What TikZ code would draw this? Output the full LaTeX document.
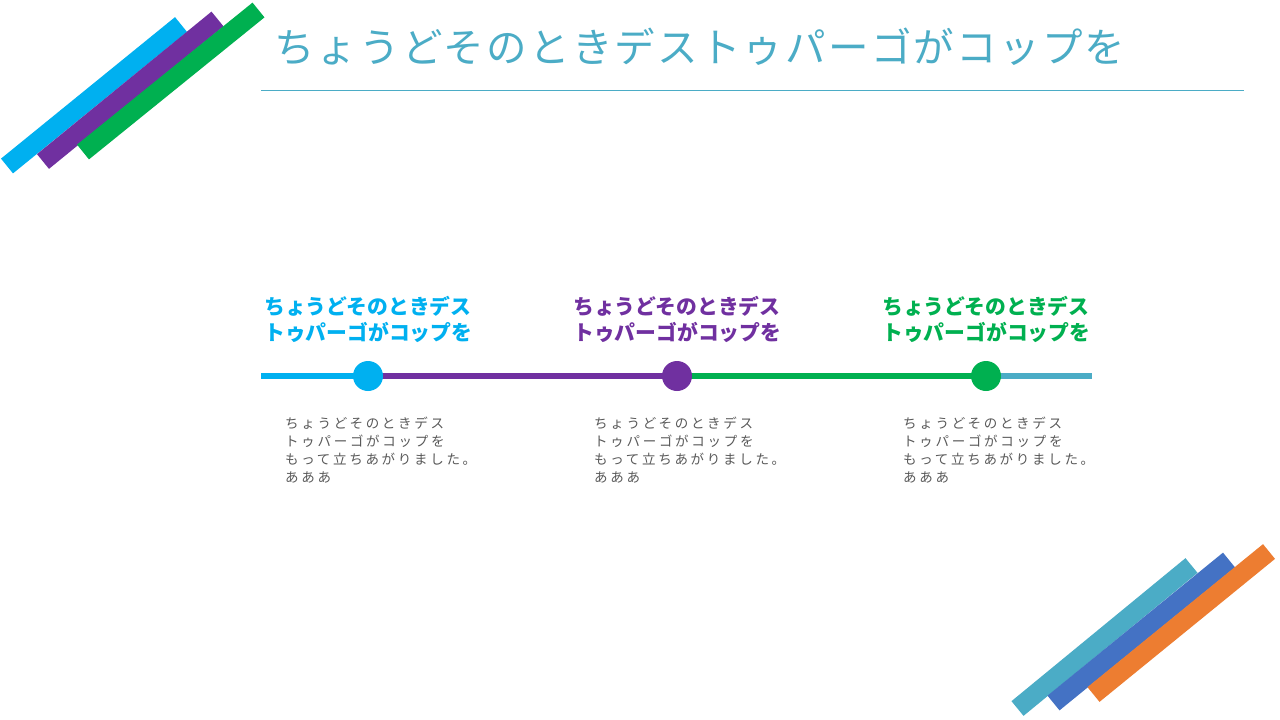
\documentclass[tikz,border=0pt]{standalone}
\usepackage{fontspec}
\newfontfamily\jpfont{Noto Sans CJK JP}
\newfontfamily\jptitle{Noto Sans CJK JP}[LetterSpace=5.5]
\newfontfamily\jpbody{Noto Sans CJK JP}[LetterSpace=20]
\definecolor{teal}{HTML}{4BACC6}
\definecolor{sblue}{HTML}{00B0F0}
\definecolor{spurple}{HTML}{7030A0}
\definecolor{sgreen}{HTML}{00B050}
\definecolor{oblue}{HTML}{4472C4}
\definecolor{oorange}{HTML}{ED7D31}
\definecolor{bodygray}{HTML}{595959}
\tikzset{
  stripe/.style={line width=19pt, line cap=butt},
  seg/.style={line width=6pt, line cap=butt},
  dot/.style={circle, fill=#1, minimum size=30pt, inner sep=0pt},
  heading/.style={text=#1, font=\jpfont\bfseries\fontsize{20.8}{26}\selectfont, align=left, anchor=north west, inner sep=0pt},
  bodytext/.style={text=bodygray, font=\jpbody\fontsize{13.5}{18}\selectfont, align=left, anchor=north west, inner sep=0pt},
}
\begin{document}
\begin{tikzpicture}[x=1pt,y=-1pt]
\useasboundingbox (0,0) rectangle (1280,720);
\fill[white] (0,0) rectangle (1280,720);
% top-left stripes
\coordinate (a1) at (7,166);   \coordinate (a2) at (181,24.5);
\coordinate (b1) at (43,161.5); \coordinate (b2) at (217.5,19);
\coordinate (g1) at (83,152);  \coordinate (g2) at (258.5,10);
\draw[stripe, sblue] (a1) -- (a2);
\draw[stripe, spurple] (b1) -- (b2);
\draw[stripe, sgreen] (g1) -- (g2);
% bottom-right stripes
\coordinate (t1) at (1017.5,708.5); \coordinate (t2) at (1191.5,565.5);
\coordinate (o1) at (1053.5,703);   \coordinate (o2) at (1229,560);
\coordinate (r1) at (1093.5,694.5); \coordinate (r2) at (1269,551.5);
\draw[stripe, teal] (t1) -- (t2);
\draw[stripe, oblue] (o1) -- (o2);
\draw[stripe, oorange] (r1) -- (r2);
% title
\node[text=teal, font=\jptitle\fontsize{40.5}{48}\selectfont, anchor=base west, inner sep=0pt] (title) at (274,62) {ちょうどそのときデストゥパーゴがコップを};
\coordinate (hl1) at (261,90); \coordinate (hl2) at (1244,90);
\draw[teal, line width=1pt] (hl1) -- (hl2);
% timeline
\coordinate (L) at (261,376);
\coordinate (p1) at (368,376);
\coordinate (p2) at (677,376);
\coordinate (p3) at (986,376);
\coordinate (R) at (1092,376);
\draw[seg, sblue] (L) -- (p1);
\draw[seg, spurple] (p1) -- (p2);
\draw[seg, sgreen] (p2) -- (p3);
\draw[seg, teal] (p3) -- (R);
\node[dot=sblue] (c1) at (p1) {};
\node[dot=spurple] (c2) at (p2) {};
\node[dot=sgreen] (c3) at (p3) {};
% headings
\node[heading=sblue] (h1) at (264,296) {ちょうどそのときデス\\トゥパーゴがコップを};
\node[heading=spurple] (h2) at (573,296) {ちょうどそのときデス\\トゥパーゴがコップを};
\node[heading=sgreen] (h3) at (882,296) {ちょうどそのときデス\\トゥパーゴがコップを};
% body texts
\node[bodytext] (b1t) at (285,417) {ちょうどそのときデス\\トゥパーゴがコップを\\もって立ちあがりました。\\あああ};
\node[bodytext] (b2t) at (594,417) {ちょうどそのときデス\\トゥパーゴがコップを\\もって立ちあがりました。\\あああ};
\node[bodytext] (b3t) at (903,417) {ちょうどそのときデス\\トゥパーゴがコップを\\もって立ちあがりました。\\あああ};
\end{tikzpicture}
\end{document}
